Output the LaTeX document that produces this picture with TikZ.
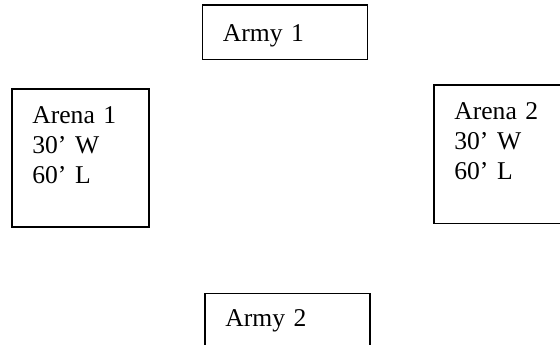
\documentclass[tikz,border=0pt]{standalone}
\usepackage{fontspec}
\setmainfont{Liberation Serif}
\begin{document}
\begin{tikzpicture}[x=1pt, y=-1pt,
  field/.style={shape=rectangle, draw=black, line width=1.7pt, anchor=north west, align=left,
    inner xsep=20.5pt, inner ysep=0pt, font=\fontsize{25.6}{29.8}\selectfont}]
\useasboundingbox (0,0) rectangle (560,345);
\clip (0,0) rectangle (560,345);
\node[field, text width=124pt, text height=36.3pt, text depth=18pt] (army1) at (201.5,4.3) {Army 1};
\node[field, text width=96pt, text height=34.7pt, text depth=103.3pt] (arena1) at (11,88) {Arena 1\\30’ W\\60’ L};
\node[field, text width=92pt, text height=34.2pt, text depth=103.8pt] (arena2) at (433,84.5) {Arena 2\\30’ W\\60’ L};
\node[field, text width=124pt, text height=33.5pt, text depth=22pt] (army2) at (204,292.5) {Army 2};
\end{tikzpicture}
\end{document}
